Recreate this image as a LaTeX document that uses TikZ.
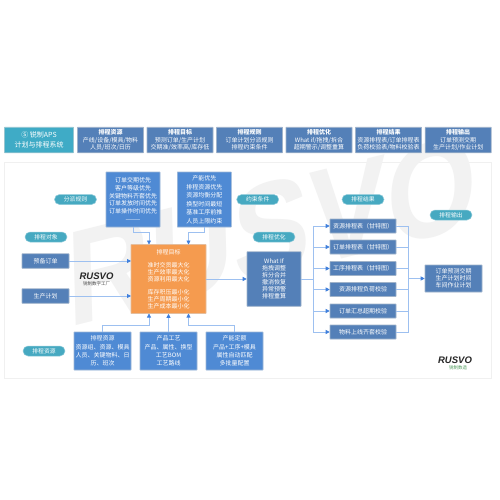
\documentclass[tikz,border=0pt]{standalone}
\usepackage{fontspec}
\setmainfont{Noto Sans CJK SC}
\newfontfamily\latinbold[BoldFont=Liberation Sans Bold]{Liberation Sans}
\newfontfamily\markfont[FakeStretch=0.9,FakeSlant=0.22]{Liberation Sans Bold}
\usetikzlibrary{arrows.meta,positioning,calc}
\definecolor{slatebox}{HTML}{5480B8}
\definecolor{brightbox}{HTML}{4F8AD4}
\definecolor{tealbox}{HTML}{3FABC6}
\definecolor{pillc}{HTML}{46A9C1}
\definecolor{orangebox}{HTML}{F59B4F}
\definecolor{linec}{HTML}{9DC0F0}
\definecolor{tipc}{HTML}{3F7FDC}
\definecolor{wm}{HTML}{F2F2F2}
\definecolor{logog}{HTML}{4E9A5B}
\tikzset{
 boxbase/.style={draw=#1!70!gray!60,line width=.6pt,fill=#1,text=white,align=center,inner sep=0pt,rounded corners=.3pt},
 headbox/.style={boxbase=slatebox,minimum width=66pt,minimum height=25.5pt,font=\fontsize{6}{7.6}\selectfont},
 rule/.style={boxbase=brightbox,minimum width=54pt,minimum height=55pt,font=\fontsize{6}{#1}\selectfont},
 res/.style={boxbase=brightbox,minimum width=57pt,minimum height=38pt,font=\fontsize{6}{8.3}\selectfont},
 obj/.style={boxbase=slatebox,minimum width=47pt,minimum height=14.5pt,font=\fontsize{6}{7}\selectfont},
 row/.style={boxbase=slatebox,minimum width=66pt,minimum height=14pt,font=\fontsize{6}{7}\selectfont},
 pill/.style={fill=pillc,draw=pillc!60,line width=.5pt,rounded corners=5pt,minimum width=42pt,minimum height=10pt,inner sep=0pt,text=white,font=\fontsize{5.8}{7}\selectfont},
 conn/.style={draw=linec,line width=.8pt},
 arr/.style={conn,-{Triangle[length=4pt,width=4pt,fill=tipc,color=tipc]}},
}
\begin{document}
\begin{tikzpicture}[x=1pt,y=-1pt]
\useasboundingbox (0,0) rectangle (500,500);
\fill[white] (0,0) rectangle (500,500);
\draw[draw=black!6,line width=1pt,fill=white] (4,162) rectangle (491,378);
% watermark
\node[rotate=14,text=wm,font=\markfont\fontsize{132}{132}\selectfont,inner sep=0pt] (mark) at (262,232) {RUSVO};
% header
\node[boxbase=tealbox,minimum width=69pt,minimum height=25.5pt,font=\fontsize{7}{9.5}\selectfont] (h0) at (39,140) {Ⓢ 锐制APS\\计划与排程系统};
\node[headbox] (h1) at (110.5,140) {\textbf{排程资源}\\产线/设备/模具/物料\\人员/班次/日历};
\node[headbox] (h2) at (180,140) {\textbf{排程目标}\\预测订单/生产计划\\交期准/效率高/库存低};
\node[headbox] (h3) at (249.5,140) {\textbf{排程规则}\\订单计划分派规则\\排程约束条件};
\node[headbox] (h4) at (319,140) {\textbf{排程优化}\\What if/拖拽/拆合\\超期警示/调整重算};
\node[headbox] (h5) at (388.5,140) {\textbf{排程结果}\\资源排程表/订单排程表\\负荷校验表/物料校验表};
\node[headbox] (h6) at (458.2,140) {\textbf{排程输出}\\订单预测交期\\生产计划/作业计划};
% pills
\node[pill] (p1) at (75.5,199.5) {分派规则};
\node[pill] (p2) at (46,237) {排程对象};
\node[pill] (p3) at (44,351) {排程资源};
\node[pill] (p4) at (257.7,199.5) {约束条件};
\node[pill] (p5) at (274,237) {排程优化};
\node[pill] (p6) at (363,199.5) {排程结果};
\node[pill] (p7) at (451,215) {排程输出};
% rules
\node[rule=7.7] (ra) at (133,199.5) {订单交期优先\\客户等级优先\\关键物料齐套优先\\订单发放时间优先\\订单操作时间优先\\———};
\node[rule=8.5] (rb) at (204.3,199.5) {产能优先\\排程资源优先\\资源均衡分配\\换型时间最短\\基准工序前推\\人员上限约束};
% target
\node[boxbase=orangebox,minimum width=75pt,minimum height=69pt,font=\fontsize{6}{7}\selectfont] (goal) at (168.5,279) {排程目标\\[6pt]准时交货最大化\\生产效率最大化\\资源利用最大化\\[6.5pt]库存积压最小化\\生产周期最小化\\生产成本最小化};
\coordinate (gtl) at (149,244.5);
\coordinate (gtr) at (188.5,244.5);
\coordinate (gbl) at (149,313.5);
\coordinate (gbr) at (188.5,313.5);
\coordinate (gl1) at (131,261);
\coordinate (gl2) at (131,296);
% objects
\node[obj] (o1) at (45.5,261) {预备订单};
\node[obj] (o2) at (45.5,296) {生产计划};
% resources
\node[res] (s1) at (102.5,351) {排程资源\\资源组、资源、模具\\人员、关键物料、日\\历、班次};
\node[res] (s2) at (168.5,351) {产品工艺\\产品、属性、换型\\工艺BOM\\工艺路线};
\node[res] (s3) at (234.5,351) {产能定额\\产品+工序+模具\\属性自动匹配\\多批量配置};
% what if
\node[boxbase=slatebox,minimum width=54pt,minimum height=54.5pt,font=\fontsize{6}{7}\selectfont] (wi) at (274,279) {What If\\拖拽调整\\拆分合并\\撤消恢复\\异常预警\\排程重算};
% rows
\node[row] (r1) at (363,226) {资源排程表（甘特图）};
\node[row] (r2) at (363,247) {订单排程表（甘特图）};
\node[row] (r3) at (363,268.5) {工序排程表（甘特图）};
\node[row] (r4) at (363,289.5) {资源排程负荷校验};
\node[row] (r5) at (363,311) {订单汇总超期校验};
\node[row] (r6) at (363,332) {物料上线齐套校验};
% output
\node[boxbase=slatebox,minimum width=57pt,minimum height=27pt,font=\fontsize{6}{7}\selectfont] (out) at (453.5,278.5) {订单预测交期\\生产计划时间\\车间作业计划};
% buses
\coordinate (busl) at (313,279);
\coordinate (busr) at (408.7,278.5);
% connectors
\draw[arr] (ra.south) -- ++(0,5) -| (gtl);
\draw[arr] (rb.south) -- ++(0,5) -| (gtr);
\draw[arr] (o1.east) -- (gl1);
\draw[arr] (o2.east) -- (gl2);
\draw[arr] (s1.north) -- ++(0,-6) -| (gbl);
\draw[arr] (s2.north) -- (goal.south);
\draw[arr] (s3.north) -- ++(0,-6) -| (gbr);
\draw[arr] (goal.east) -- (wi.west);
\draw[conn] (wi.east) -- (busl);
\foreach \n in {1,...,6}{
 \draw[arr] (busl) |- (r\n.west);
 \draw[conn] (r\n.east) -| (busr);
}
\draw[arr] (busr) -- (out.west);
% logos
\node[inner sep=0pt,font=\latinbold\bfseries\itshape\fontsize{9.5}{9.5}\selectfont,text=black!85] (l1) at (96.5,276.5) {RUSVO};
\node[inner sep=0pt,font=\fontsize{4.5}{5}\selectfont,text=black!70] (l1s) at (96.5,284) {锐制数字工厂};
\node[inner sep=0pt,font=\latinbold\bfseries\itshape\fontsize{9.5}{9.5}\selectfont,text=black!85] (l2) at (455,360.5) {RUSVO};
\node[inner sep=0pt,font=\fontsize{4.5}{5}\selectfont,text=logog] (l2s) at (458,368) {锐制数造};
\end{tikzpicture}
\end{document}
